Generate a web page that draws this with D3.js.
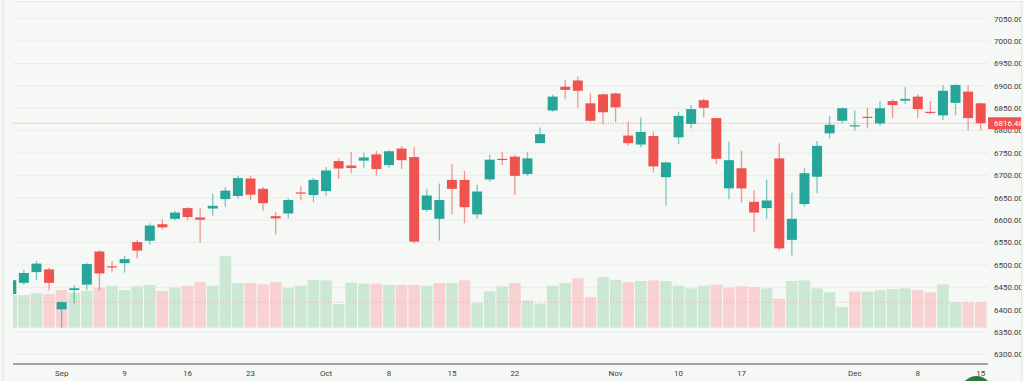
<!DOCTYPE html>
<html>
<head>
<meta charset="utf-8">
<script src="https://cdn.jsdelivr.net/npm/d3@7"></script>
<style>
body { margin: 0; background: #f6f8f6; overflow: hidden; }
svg { display: block; font-family: Roboto, "Liberation Sans", sans-serif; }
</style>
</head>
<body>
<div id="chart"></div>
<script>
(function(){

var width = 1024,
	height = 381,
	plot_left = 13,
	plot_right = 988,
	axis_y = 364;

// trading days, 26 Aug .. 15 Dec
var dates = ["08-26","08-27","08-28","08-29",
	"09-02","09-03","09-04","09-05","09-08","09-09","09-10","09-11","09-12","09-15","09-16","09-17","09-18","09-19","09-22","09-23","09-24","09-25","09-26","09-29","09-30",
	"10-01","10-02","10-03","10-06","10-07","10-08","10-09","10-10","10-13","10-14","10-15","10-16","10-17","10-20","10-21","10-22","10-23","10-24","10-27","10-28","10-29","10-30","10-31",
	"11-03","11-04","11-05","11-06","11-07","11-10","11-11","11-12","11-13","11-14","11-17","11-18","11-19","11-20","11-21","11-24","11-25","11-26","11-28",
	"12-01","12-02","12-03","12-04","12-05","12-08","12-09","12-10","12-11","12-12","12-15"];

var open = [6435,6460,6484,6490,
	6401,6444,6456,6530,6497,6504,6551,6554,6591,6603,6627,6606,6626,6647,6654,6693,6670,6609,6615,6662,6656,
	6665,6732,6722,6733,6747,6723,6760,6741,6623,6603,6690,6690,6613,6691,6737,6742,6703,6772,6845,6898,6912,6861,6881,
	6883,6789,6769,6788,6696,6785,6815,6868,6828,6671,6716,6641,6627,6738,6556,6636,6697,6794,6822,
	6811,6831,6816,6866,6867,6876,6842,6834,6862,6887,6861];

var high = [6467,6489,6509,6494,
	6418,6455,6505,6533,6509,6520,6556,6593,6602,6621,6629,6627,6659,6674,6699,6699,6674,6619,6649,6676,6694,
	6719,6738,6752,6751,6755,6757,6766,6763,6670,6682,6725,6710,6679,6746,6753,6746,6752,6807,6880,6913,6921,6883,6883,
	6885,6820,6830,6798,6731,6842,6857,6872,6828,6775,6755,6667,6691,6772,6661,6716,6777,6833,6852,
	6845,6851,6865,6870,6897,6881,6866,6902,6904,6902,6862];

var low = [6432,6456,6466,6443,
	6360,6414,6444,6444,6483,6483,6515,6545,6580,6600,6600,6550,6610,6630,6648,6645,6621,6568,6604,6644,6640,
	6655,6692,6705,6716,6699,6717,6714,6548,6619,6554,6613,6593,6603,6686,6723,6656,6699,6772,6842,6870,6851,6820,6814,
	6819,6766,6763,6707,6632,6770,6805,6830,6725,6647,6639,6573,6603,6532,6521,6630,6660,6783,6816,
	6800,6805,6811,6828,6859,6828,6837,6824,6834,6801,6801];

var close = [6466,6482,6503,6460,
	6417,6448,6502,6481,6495,6513,6532,6588,6584,6617,6607,6601,6632,6666,6694,6657,6638,6604,6645,6661,6690,
	6711,6715.5,6716.5,6740,6714,6754,6734,6552,6655,6645,6670,6629,6664,6735.1,6735.4,6699,6738,6792,6876,6891,6889,6822,6841,
	6852,6772,6797,6720,6729,6833,6848,6851,6737,6734,6671,6617,6644,6537,6603,6705,6766,6813,6850,
	6812,6829,6850,6857,6871,6848,6840,6889,6902,6828,6816.48];

// volume, billions of shares
var volume = [2.72,2.72,2.87,2.81,
	3.14,2.92,3.08,3.33,3.47,3.14,3.45,3.56,3.06,3.33,3.5,3.81,3.5,5.97,3.72,3.72,3.62,3.81,3.33,3.5,3.97,
	3.95,1.97,3.75,3.67,3.67,3.56,3.56,3.56,3.5,3.72,3.72,3.95,2.08,3.03,3.45,3.72,2.28,2.0,3.5,3.72,4.12,2.56,4.22,
	4.0,3.78,3.89,3.95,3.89,3.5,3.28,3.5,3.58,3.33,3.45,3.39,3.28,2.42,3.89,3.95,3.28,2.95,1.72,
	3.0,3.0,3.12,3.22,3.28,3.12,2.95,3.62,2.12,2.12,2.12];

var tick_dates = ["09-02","09-09","09-16","09-23","10-01","10-08","10-15","10-22","11-03","11-10","11-17","12-01","12-08","12-15"];
var tick_labels = ["Sep","9","16","23","Oct","8","15","22","Nov","10","17","Dec","8","15"];

var price_ticks = d3.range(6300, 7051, 50);
var last_price = 6816.48;

var up = "#26a69a", down = "#ef5350",
	vol_up = "#cce8d4", vol_down = "#f8d2d3";

var bars = dates.map(function(d,i){
	return {date:d, o:open[i], h:high[i], l:low[i], c:close[i], v:volume[i],
		vup: close[i] >= (i>0 ? close[i-1] : open[i])};
});

var X = d3.scaleBand().domain(dates).range([5, 987]);
var Y = d3.scaleLinear().domain([6300, 7050]).range([354.5, 18.7]);
var V = d3.scaleLinear().domain([0, 6]).range([327.7, 255.7]);

var cx = function(d){ return X(d) + X.bandwidth()/2; };

var svg = d3.select("#chart").append("svg")
	.attr("width", width)
	.attr("height", height);

svg.append("defs").append("clipPath").attr("id","plotclip")
	.append("rect")
	.attr("x", plot_left).attr("y", 0)
	.attr("width", plot_right - plot_left).attr("height", axis_y);

// frame bits
svg.append("line")
	.attr("x1",3).attr("x2",3).attr("y1",0).attr("y2",height)
	.style("stroke","#e5e8e5").style("stroke-width",1.5);
svg.append("line")
	.attr("x1",1021.5).attr("x2",1021.5).attr("y1",0).attr("y2",height)
	.style("stroke","#e3e6e3");
svg.append("rect")
	.attr("x",15).attr("y",-6).attr("width",1020).attr("height",7.5).attr("rx",3)
	.style("fill","#ffffff").style("stroke","#e3e6e3");

// grid
svg.append("g").selectAll("line").data(price_ticks).enter().append("line")
	.attr("x1", plot_left).attr("x2", plot_right)
	.attr("y1", function(d){ return Y(d); })
	.attr("y2", function(d){ return Y(d); })
	.style("stroke","#e9ece9")
	.style("stroke-width",1);

var plot = svg.append("g").attr("clip-path","url(#plotclip)");

// volume
plot.append("g").selectAll("rect").data(bars).enter().append("rect")
	.attr("x", function(d){ return X(d.date) + 0.5; })
	.attr("width", X.bandwidth() - 1)
	.attr("y", function(d){ return V(d.v); })
	.attr("height", function(d){ return V(0) - V(d.v); })
	.style("fill", function(d){ return d.vup ? vol_up : vol_down; });

plot.append("line")
	.attr("x1", plot_left).attr("x2", plot_right)
	.attr("y1", V(volume[volume.length-1])).attr("y2", V(volume[volume.length-1]))
	.style("stroke","#f0b0b0").style("stroke-dasharray","1,2").style("stroke-width",1);

// last price line
plot.append("line")
	.attr("x1", plot_left).attr("x2", plot_right)
	.attr("y1", Y(last_price)).attr("y2", Y(last_price))
	.style("stroke", down).style("stroke-opacity",0.6)
	.style("stroke-dasharray","1,1.5").style("stroke-width",1);

// candles
var candle = plot.append("g").selectAll("g").data(bars).enter().append("g");

candle.append("line")
	.attr("x1", function(d){ return cx(d.date); })
	.attr("x2", function(d){ return cx(d.date); })
	.attr("y1", function(d){ return Y(d.h); })
	.attr("y2", function(d){ return Y(d.l); })
	.style("stroke", function(d){ return d.c >= d.o ? up : down; })
	.style("stroke-opacity", 0.6)
	.style("stroke-width", 1.3);

candle.append("rect")
	.attr("x", function(d){ return cx(d.date) - 5; })
	.attr("width", 10)
	.attr("y", function(d){ return Y(Math.max(d.o, d.c)); })
	.attr("height", function(d){ return Math.max(1.2, Math.abs(Y(d.o) - Y(d.c))); })
	.style("fill", function(d){ return d.c >= d.o ? up : down; });

// x axis
svg.append("line")
	.attr("x1", plot_left).attr("x2", plot_right)
	.attr("y1", axis_y).attr("y2", axis_y)
	.style("stroke","#4f4e6c").style("stroke-width",1.2);

svg.append("g").selectAll("text").data(tick_dates).enter().append("text")
	.attr("x", function(d){ return cx(d); })
	.attr("y", 373.5)
	.attr("dy","0.35em")
	.attr("text-anchor","middle")
	.style("font-size","8px")
	.style("fill","#3c3c3c")
	.text(function(d,i){ return tick_labels[i]; });

// price axis labels
svg.append("defs").append("clipPath").attr("id","axisclip")
	.append("rect").attr("x",988).attr("y",0).attr("width",33).attr("height",height);

var yax = svg.append("g").attr("clip-path","url(#axisclip)");

yax.selectAll("text").data(price_ticks).enter().append("text")
	.attr("x", 994)
	.attr("y", function(d){ return Y(d); })
	.attr("dy","0.35em")
	.style("font-size","8px")
	.style("fill","#3c3c3c")
	.text(function(d){ return d3.format(".2f")(d); });

yax.append("rect")
	.attr("x", 988).attr("y", Y(last_price) - 6)
	.attr("width", 36).attr("height", 12)
	.style("fill", down);

yax.append("text")
	.attr("x", 994)
	.attr("y", Y(last_price))
	.attr("dy","0.35em")
	.style("font-size","8px")
	.style("fill","#ffffff")
	.text(d3.format(".2f")(last_price));

// round button peeking in at the bottom
svg.append("circle")
	.attr("cx", 976.5).attr("cy", 392).attr("r", 16)
	.style("fill","#2a7a3a");

})()
</script>
</body>
</html>
